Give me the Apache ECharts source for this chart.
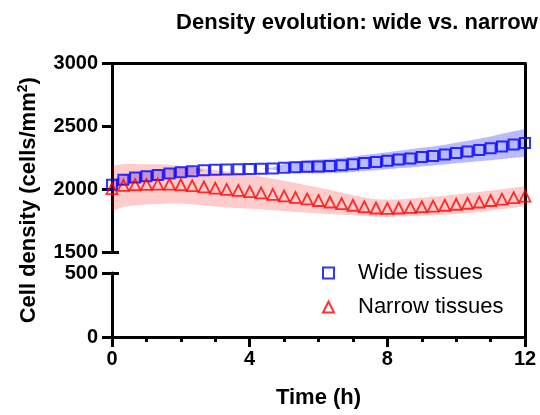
<!DOCTYPE html>
<html><head><meta charset="utf-8">
<script src="https://cdn.jsdelivr.net/npm/echarts@6/dist/echarts.min.js"></script>
<style>html,body{margin:0;padding:0;background:#fff}#c{width:540px;height:415px}</style>
</head><body><div id="c"></div>
<script>
// Time points (h)
const times = [0, 0.33, 0.67, 1, 1.33, 1.67, 2, 2.33, 2.67, 3, 3.33, 3.67, 4, 4.33, 4.67, 5, 5.33, 5.67, 6, 6.33, 6.67, 7, 7.33, 7.67, 8, 8.33, 8.67, 9, 9.33, 9.67, 10, 10.33, 10.67, 11, 11.33, 11.67, 12];
// Wide tissues: mean and SD band half-width (cells/mm^2)
const wideMean = [2035, 2075, 2092, 2103, 2112, 2125, 2135, 2142, 2150, 2155, 2157, 2158, 2160, 2162, 2165, 2170, 2175, 2178, 2180, 2185, 2190, 2198, 2208, 2216, 2226, 2236, 2245, 2255, 2264, 2275, 2288, 2300, 2312, 2325, 2340, 2355, 2368];
const wideSD = [38, 40, 40, 38, 38, 36, 36, 35, 0, 0, 0, 0, 0, 0, 8, 30, 45, 52, 56, 58, 60, 62, 64, 66, 68, 70, 72, 74, 76, 78, 82, 86, 90, 95, 100, 105, 110];
// Narrow tissues
const narrowMean = [2005, 2030, 2035, 2038, 2040, 2040, 2035, 2028, 2018, 2008, 1998, 1990, 1980, 1970, 1958, 1946, 1934, 1922, 1910, 1898, 1885, 1872, 1860, 1850, 1847, 1850, 1855, 1860, 1865, 1872, 1880, 1888, 1898, 1910, 1920, 1932, 1944];
const narrowSD = [180, 170, 165, 160, 158, 155, 150, 148, 146, 145, 143, 140, 135, 130, 125, 120, 115, 110, 103, 95, 88, 80, 74, 70, 68, 68, 70, 72, 74, 76, 78, 80, 80, 80, 80, 80, 80];
// Axis ticks
const xTicksInterval = 4;
const yTopTicks = {min: 1500, max: 3000, interval: 500};
const yBottomTicks = {min: 0, max: 500, interval: 500};

const FONT = "'Liberation Sans', Arial, Helvetica, sans-serif";
const pairs = arr => times.map((t, i) => [t, arr[i]]);
const bandData = (mean, sd) => times.map((t, i) => [t, mean[i] - sd[i], mean[i] + sd[i]]);

const LW = 3;
const lineBlack = {color: '#000', width: LW};
const labelStyle = {fontSize: 20, fontWeight: 'bold', color: '#000', fontFamily: FONT, formatter: v => String(v)};
const nameStyle = {fontSize: 22, fontWeight: 'bold', color: '#000', fontFamily: FONT};

function bandRenderer(fill) {
  return function (params, api) {
    if (params.dataIndexInside !== 0) return null;
    const n = params.dataInsideLength;
    const upper = [], lower = [];
    for (let i = 0; i < n; i++) {
      const t = api.value(0, i);
      upper.push(api.coord([t, api.value(2, i)]));
      lower.push(api.coord([t, api.value(1, i)]));
    }
    const pts = upper.concat(lower.reverse());
    return {type: 'polygon', shape: {points: pts}, style: {fill: fill}, silent: true};
  };
}

const chart = echarts.init(document.getElementById('c'), null, {renderer: 'canvas'});
chart.setOption({
  animation: false,
  backgroundColor: '#fff',
  title: {
    text: 'Density evolution: wide vs. narrow',
    left: 352, top: 7, textAlign: 'center',
    textStyle: {fontSize: 22, fontWeight: 'bold', color: '#000', fontFamily: FONT}
  },
  legend: {
    data: ['Wide tissues', 'Narrow tissues'],
    orient: 'vertical', left: 317, top: 257,
    itemWidth: 11, itemHeight: 11, itemGap: 12,
    selectedMode: false,
    textStyle: {fontSize: 22, lineHeight: 22, color: '#000', fontFamily: FONT, padding: [0, 0, 0, 19]}
  },
  grid: [
    {left: 112, right: 15, top: 63.5, height: 188.5, outerBoundsMode: 'none', containLabel: false},
    {left: 112, right: 15, top: 273, height: 64, outerBoundsMode: 'none', containLabel: false},
    {left: 112, right: 15, top: 63.5, height: 273.5, outerBoundsMode: 'none', containLabel: false}
  ],
  xAxis: [
    {gridIndex: 0, type: 'value', min: 0, max: 12, show: false},
    {gridIndex: 1, type: 'value', min: 0, max: 12, interval: xTicksInterval,
      axisLine: {show: true, onZero: false, lineStyle: lineBlack},
      axisTick: {show: true, length: 10, lineStyle: lineBlack},
      minorTick: {show: true, splitNumber: 4, length: 5, lineStyle: lineBlack},
      axisLabel: Object.assign({margin: 12}, labelStyle),
      splitLine: {show: false},
      name: 'Time (h)', nameLocation: 'middle', nameGap: 50, nameTextStyle: nameStyle
    },
    {gridIndex: 2, type: 'value', min: 0, max: 12, position: 'top',
      axisLine: {show: true, onZero: false, lineStyle: lineBlack},
      axisTick: {show: false}, axisLabel: {show: false}, splitLine: {show: false}
    }
  ],
  yAxis: [
    {gridIndex: 0, type: 'value', min: yTopTicks.min, max: yTopTicks.max, interval: yTopTicks.interval, position: 'left',
      axisLine: {show: true, onZero: false, lineStyle: lineBlack},
      axisTick: {show: true, length: 10, lineStyle: lineBlack},
      axisLabel: Object.assign({margin: 14}, labelStyle),
      splitLine: {show: false}
    },
    {gridIndex: 0, type: 'value', min: yTopTicks.min, max: yTopTicks.max, position: 'left', offset: 0,
      axisLine: {show: false, onZero: false},
      axisTick: {show: true, inside: true, length: 7, customValues: [yTopTicks.min], lineStyle: lineBlack},
      axisLabel: {show: false}, splitLine: {show: false}
    },
    {gridIndex: 1, type: 'value', min: yBottomTicks.min, max: yBottomTicks.max, interval: yBottomTicks.interval, position: 'left',
      axisLine: {show: true, onZero: false, lineStyle: lineBlack},
      axisTick: {show: true, length: 10, lineStyle: lineBlack},
      axisLabel: Object.assign({margin: 14}, labelStyle),
      splitLine: {show: false}
    },
    {gridIndex: 1, type: 'value', min: yBottomTicks.min, max: yBottomTicks.max, position: 'left', offset: 0,
      axisLine: {show: false, onZero: false},
      axisTick: {show: true, inside: true, length: 7, customValues: [yBottomTicks.max], lineStyle: lineBlack},
      axisLabel: {show: false}, splitLine: {show: false}
    },
    {gridIndex: 2, type: 'value', min: 0, max: 1, position: 'right',
      axisLine: {show: true, onZero: false, lineStyle: lineBlack},
      axisTick: {show: false}, axisLabel: {show: false}, splitLine: {show: false}
    },
    {gridIndex: 2, type: 'value', min: 0, max: 1, position: 'left', offset: 0,
      axisLine: {show: false, onZero: false},
      axisTick: {show: false}, axisLabel: {show: false}, splitLine: {show: false},
      name: 'Cell density (cells/mm{sup|2})', nameLocation: 'middle', nameGap: 70, nameMoveOverlap: false,
      nameTextStyle: Object.assign({rich: {sup: {fontSize: 14, fontWeight: 'bold', color: '#000', fontFamily: FONT, padding: [0, 0, 12, 0]}}}, nameStyle)
    }
  ],
  series: [
    {type: 'custom', name: 'wideBand', xAxisIndex: 0, yAxisIndex: 0, data: bandData(wideMean, wideSD),
      renderItem: bandRenderer('rgba(0,0,255,0.27)'), encode: {x: 0, y: [1, 2]}, silent: true, z: 1},
    {type: 'custom', name: 'narrowBand', xAxisIndex: 0, yAxisIndex: 0, data: bandData(narrowMean, narrowSD),
      renderItem: bandRenderer('rgba(255,0,0,0.2)'), encode: {x: 0, y: [1, 2]}, silent: true, z: 1},
    {type: 'scatter', name: 'Wide tissues', xAxisIndex: 0, yAxisIndex: 0, data: pairs(wideMean), symbol: 'rect', symbolSize: 10,
      itemStyle: {color: 'rgba(0,0,0,0)', borderColor: '#0000ff', borderWidth: 2}, z: 3},
    {type: 'scatter', name: 'Narrow tissues', xAxisIndex: 0, yAxisIndex: 0, data: pairs(narrowMean), symbol: 'triangle', symbolSize: 11,
      itemStyle: {color: 'rgba(0,0,0,0)', borderColor: '#ff0000', borderWidth: 1.8}, z: 3}
  ]
});
</script></body></html>
